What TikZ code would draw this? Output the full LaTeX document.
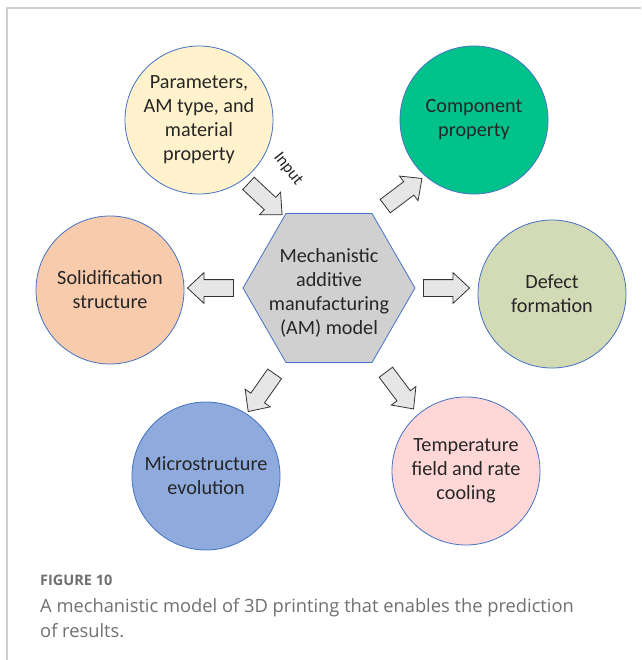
\documentclass[tikz,border=0pt]{standalone}
\usepackage{fontspec}
\setmainfont{Carlito}
\newfontfamily\capfont{Open Sans}
\usetikzlibrary{shapes.geometric,shapes.arrows}
\definecolor{bordblue}{HTML}{4472C4}
\definecolor{cyellow}{HTML}{FFF2CC}
\definecolor{cgreen}{HTML}{00C28A}
\definecolor{cpeach}{HTML}{F8CBAD}
\definecolor{csage}{HTML}{D2DAB6}
\definecolor{cblue}{HTML}{8FAADC}
\definecolor{cpink}{HTML}{FFD7D7}
\definecolor{chex}{HTML}{D0D0D0}
\definecolor{carrow}{HTML}{E6E6E6}
\definecolor{framegray}{HTML}{CFCFCF}
\definecolor{captgray}{HTML}{707070}
\tikzset{
  bubble/.style={circle, draw=bordblue, line width=0.8pt, minimum size=148pt, inner sep=0pt,
    align=center, font=\fontsize{20.2}{24}\selectfont, text=black!85},
  blockarrow/.style={single arrow, draw=black!80, fill=carrow, line width=0.8pt,
    inner sep=8pt, single arrow head extend=7pt, single arrow tip angle=86,
    minimum height=46pt},
}
\begin{document}
\begin{tikzpicture}[x=1pt,y=-1pt]
\useasboundingbox (0,0) rectangle (641,660);
\fill[white] (0,0) rectangle (641,660);
% frame
\draw[framegray, line width=1.6pt] (7,660) coordinate (fbl) -- (7,8) coordinate (ftl) -- (641,8) coordinate (ftr);
% circles
\node[bubble, fill=cyellow] (par) at (199,120) {Parameters,\\AM type, and\\material\\property};
\node[bubble, fill=cgreen] (comp) at (474,120) {Component\\property};
\node[bubble, fill=cpeach] (sol) at (110,290) {Solidification\\structure};
\node[bubble, fill=csage] (def) at (552,294) {Defect\\formation};
\node[bubble, fill=cblue] (mic) at (206,476) {Microstructure\\evolution};
\node[bubble, fill=cpink] (temp) at (466,471) {Temperature\\field and rate\\cooling};
% hexagon
\node[regular polygon, regular polygon sides=6, minimum size=172pt, inner sep=0pt,
  draw=bordblue, line width=0.8pt, fill=chex] (hex) at (329,288) {};
\node[align=center, font=\fontsize{20.2}{24}\selectfont, text=black!85] (hextext) at ([yshift=-5pt]hex.center) {Mechanistic\\additive\\manufacturing\\(AM) model};
% arrows
\node[blockarrow, rotate=-43] (ain) at (262,196) {};
\node[blockarrow, rotate=37] (acomp) at (400,195) {};
\node[blockarrow, rotate=180] (asol) at (215,288) {};
\node[blockarrow, rotate=0] (adef) at (442,288) {};
\node[blockarrow, rotate=-125] (amic) at (264,389) {};
\node[blockarrow, rotate=-53] (atemp) at (397,387) {};
\node[rotate=-52, font=\fontsize{17}{18}\selectfont, text=black!85, inner sep=0pt] (inlabel) at (288,169) {Input};
% caption
\node[anchor=base west, inner sep=0pt, font=\capfont\bfseries\fontsize{14.5}{16}\selectfont, text=captgray] (fig) at (40,585) {FIGURE 10};
\node[anchor=base west, inner sep=0pt, font=\capfont\fontsize{18.3}{25}\selectfont, text=captgray] (capt1) at (40,612) {A mechanistic model of 3D printing that enables the prediction};
\node[anchor=base west, inner sep=0pt, font=\capfont\fontsize{18.3}{25}\selectfont, text=captgray] (capt2) at (40,637) {of results.};
\end{tikzpicture}
\end{document}
